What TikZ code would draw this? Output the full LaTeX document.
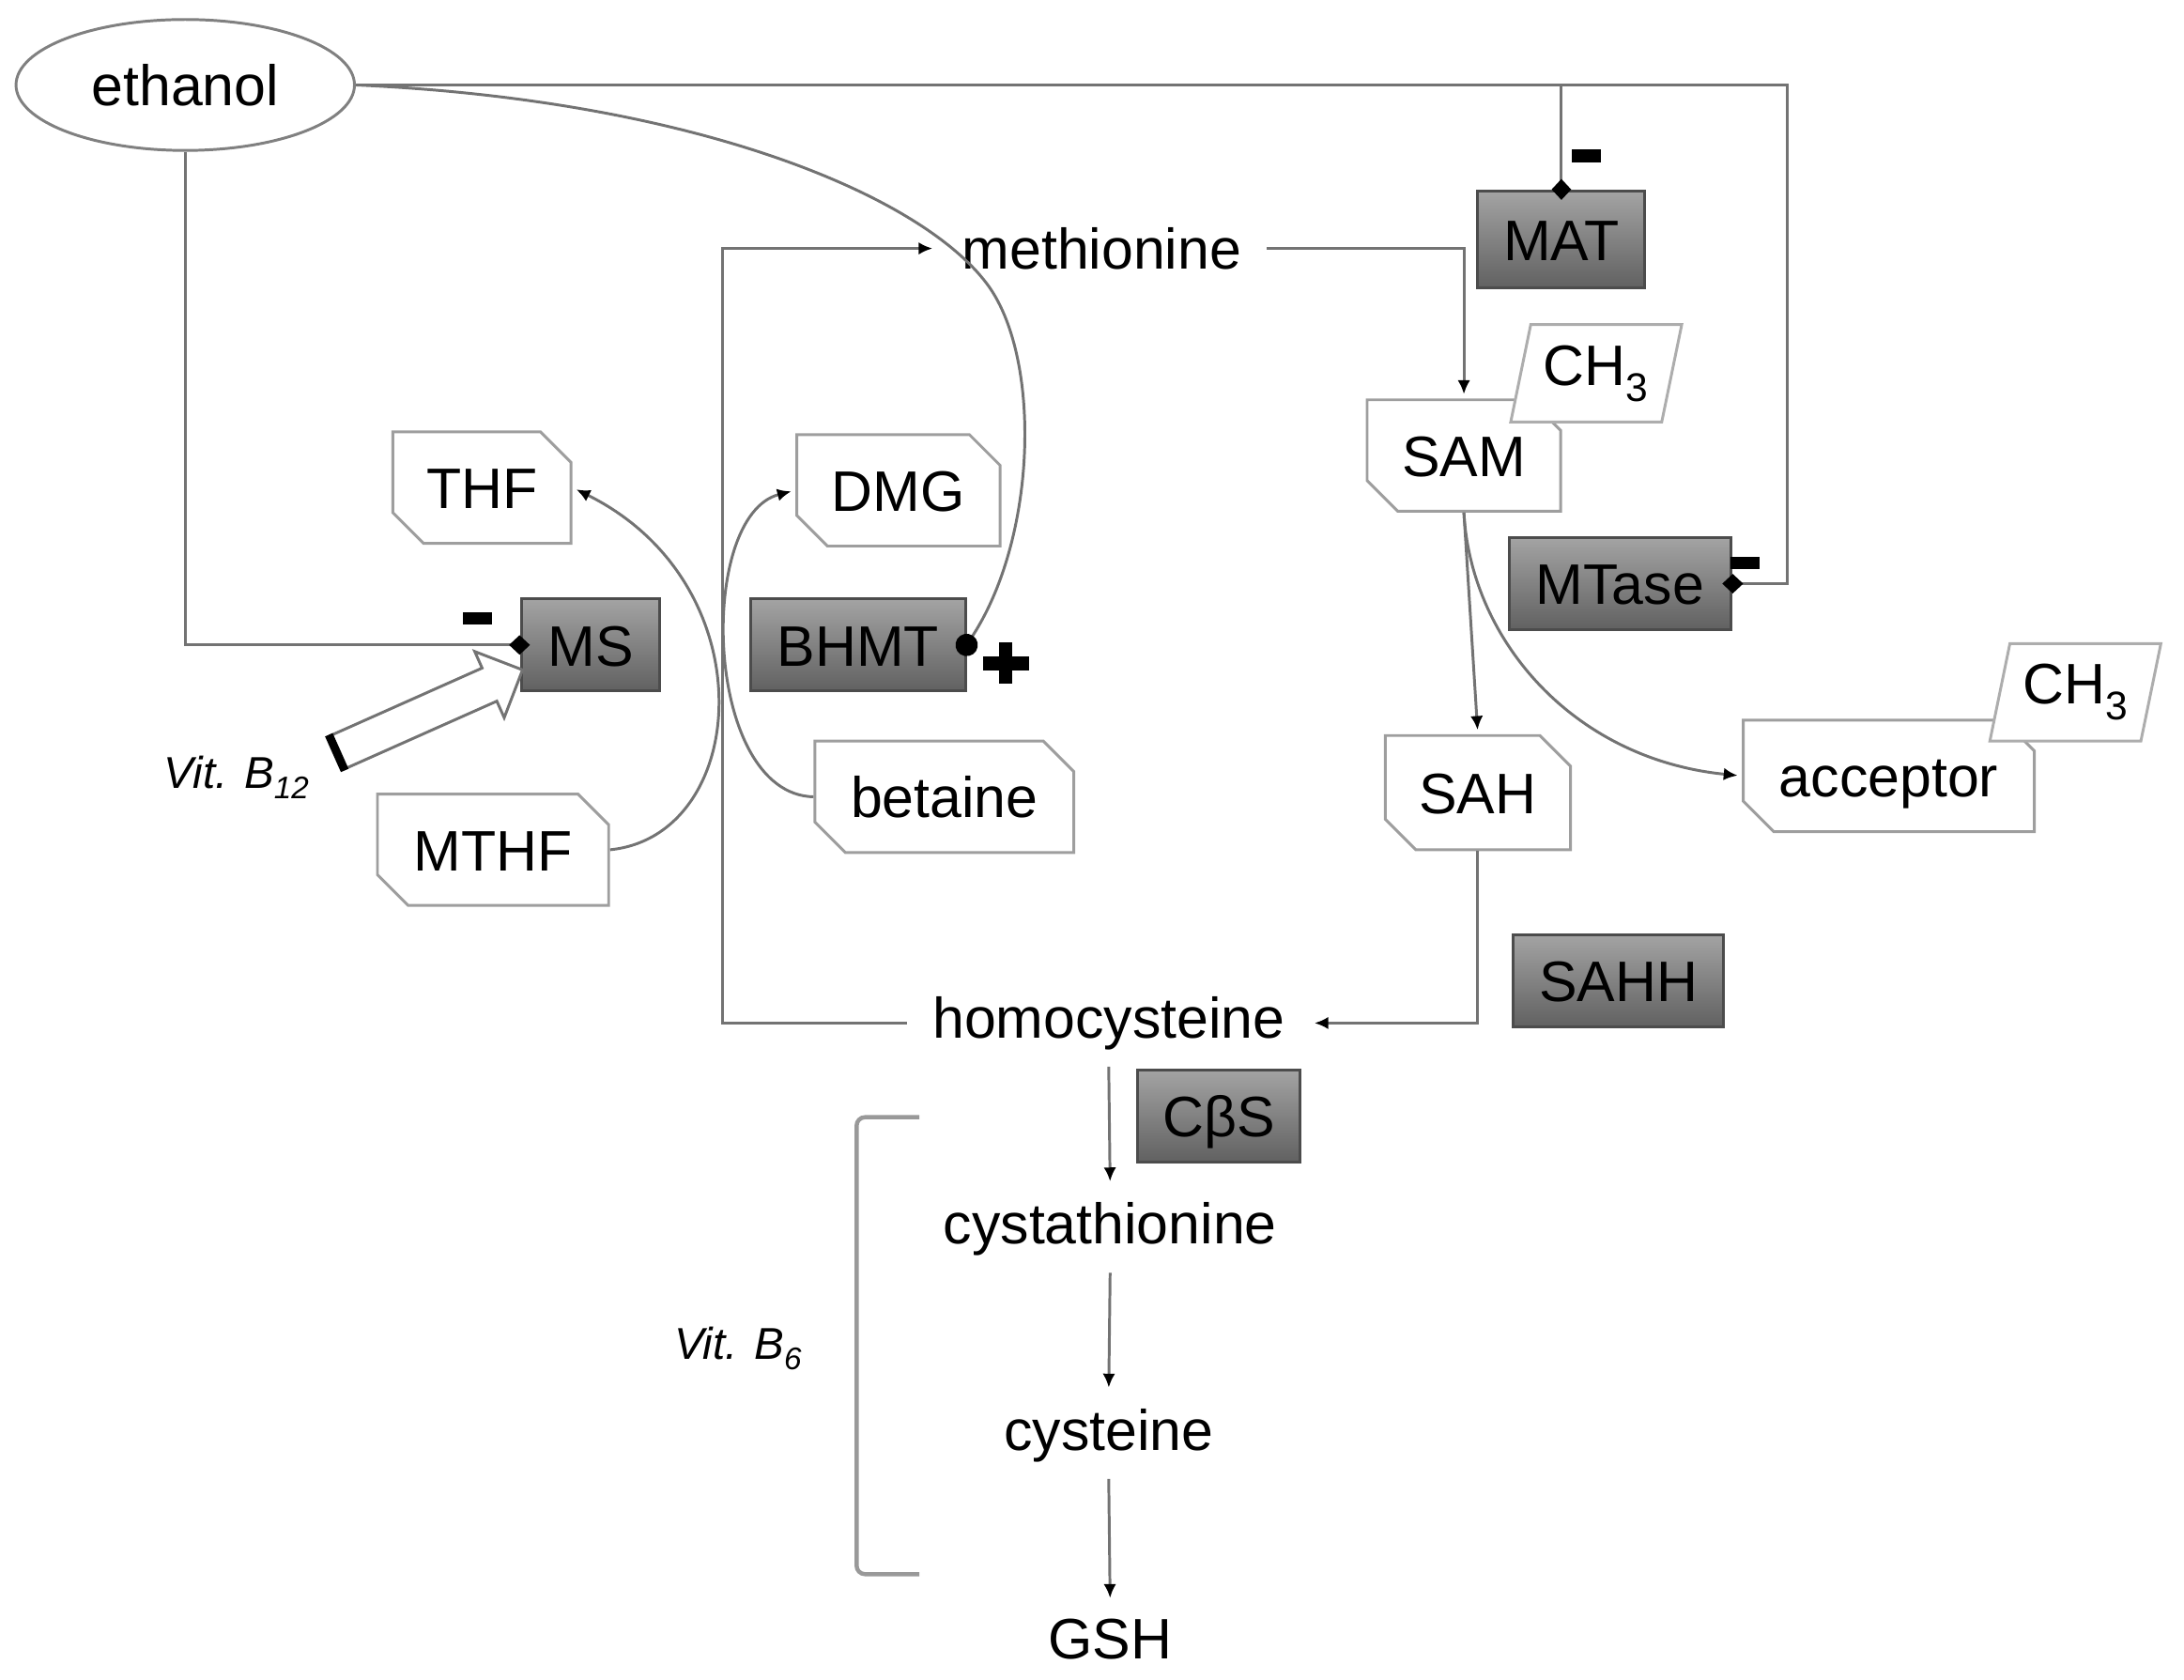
\documentclass[tikz,border=0pt]{standalone}
\usepackage{fontspec}
\setmainfont{Liberation Sans}
\usetikzlibrary{arrows.meta,%
	shapes.geometric,%
	shapes.misc,%
	shapes.arrows}
\newcommand\boxfont{\fontsize{41}{48}\selectfont}
\newcommand\vitfont{\fontsize{32}{38}\selectfont\itshape}

\begin{document}
\begin{tikzpicture}[x=1pt,y=-1pt,
	mol_node/.style={chamfered rectangle,chamfered rectangle corners={north east,south west},chamfered rectangle xsep=11pt,chamfered rectangle ysep=11pt,draw=black!38,line width=2pt,fill=white,inner sep=0pt,minimum height=80pt,text height=30pt,text depth=0pt,font=\boxfont},
	enz_node/.style={rectangle,draw=black!70,line width=2pt,top color=black!36,bottom color=black!62,inner sep=0pt,minimum height=66pt,text height=30pt,text depth=0pt,font=\boxfont},
	ch3_node/.style={trapezium,trapezium left angle=74,trapezium right angle=106,trapezium stretches=true,draw=black!32,line width=2pt,fill=white,inner sep=0pt,minimum width=123pt,minimum height=70pt,font=\boxfont},
	met_text/.style={anchor=base,inner xsep=18pt,inner ysep=12pt,font=\boxfont},
	vit_text/.style={inner sep=0pt,font=\vitfont},
	conn/.style={draw=black!55,line width=2pt},
	to_arrow/.style={conn,-{Latex[length=10pt,width=9pt,color=black]},shorten >=3pt},
	inhibit/.style={conn,-{Diamond[length=15pt,width=14pt,color=black]},shorten >=-7pt},
	activate/.style={conn,-{Circle[length=16pt,color=black]},shorten >=-8pt},
	minus_mark/.style={rectangle,fill=black,minimum width=21pt,minimum height=9pt,inner sep=0pt},
	hollow_arrow/.style={single arrow,draw=black!55,line width=2pt,fill=white,minimum height=145pt,inner xsep=0pt,inner ysep=12pt,single arrow head extend=13pt,single arrow head indent=0pt}]

	\useasboundingbox (0,0) rectangle (1568,1206);

	% metabolites
	\node[ellipse,draw=black!50,line width=2pt,minimum width=243pt,minimum height=94pt,inner sep=0pt,font=\boxfont] (ethanol) at (133,61) {ethanol};
	\node[met_text] (methionine) at (791,193) {methionine};
	\node[met_text] (homocys) at (796,745) {homocysteine};
	\node[met_text] (cystathionine) at (797,893) {cystathionine};
	\node[met_text] (cysteine) at (796,1041) {cysteine};
	\node[met_text] (gsh) at (797,1191) {GSH};

	\node[mol_node,minimum width=128pt] (thf) at (346,350) {THF};
	\node[mol_node,minimum width=146pt] (dmg) at (645,352) {DMG};
	\node[mol_node,minimum width=186pt] (betaine) at (678,572) {betaine};
	\node[mol_node,minimum width=166pt] (mthf) at (354,610) {MTHF};
	\node[mol_node,minimum width=139pt] (sam) at (1051,327) {SAM};
	\node[ch3_node] (ch3_sam) at (1146,268) {CH\textsubscript{3}};
	\node[mol_node,minimum width=133pt,minimum height=82pt] (sah) at (1061,569) {SAH};
	\node[mol_node,minimum width=209pt] (acceptor) at (1356,557) {acceptor};
	\node[ch3_node] (ch3_acc) at (1490,497) {CH\textsubscript{3}};

	% enzymes
	\node[enz_node,minimum width=120pt,minimum height=69pt] (mat) at (1121,172) {MAT};
	\node[enz_node,minimum width=99pt] (ms) at (424,463) {MS};
	\node[enz_node,minimum width=154pt] (bhmt) at (616,463) {BHMT};
	\node[enz_node,minimum width=159pt] (mtase) at (1163,419) {MTase};
	\node[enz_node,minimum width=151pt] (sahh) at (1162,704) {SAHH};
	\node[enz_node,minimum width=117pt] (cbs) at (875,801) {CβS};

	\node[vit_text] (vit_b12) at (170,558) {Vit. B\textsubscript{12}};
	\node[vit_text] (vit_b6) at (530,968) {Vit. B\textsubscript{6}};

	\coordinate (top_corner) at (1283,61);
	\coordinate (loop_left) at (519,0);

	% ethanol effects
	\draw[inhibit] (ethanol.east) -- (top_corner) |- (mtase.east);
	\draw[inhibit] (mat.north |- ethanol.east) -- (mat.north);
	\draw[inhibit] (ethanol.south) |- (ms.west);
	\draw[activate] (ethanol.east) .. controls (500,72) and (660,140) .. (708,203)
		.. controls (748,255) and (745,385) .. (bhmt.east);

	\node[minus_mark] (mat_minus) at (1139,112) {};
	\node[minus_mark] (mtase_minus) at (1253,404) {};
	\node[minus_mark] (ms_minus) at (343,444) {};
	\node[minus_mark,minimum width=33pt,minimum height=10pt] (bhmt_plus_h) at (722,476) {};
	\node[minus_mark,minimum width=10pt,minimum height=30pt] (bhmt_plus_v) at (722,476) {};

	% methionine cycle
	\draw[to_arrow] (homocys.west) -- (homocys.west -| loop_left) |- (methionine.west);
	\draw[to_arrow] (methionine.east) -| (sam.north);
	\draw[to_arrow] (sam.south) -- (sah.north);
	\draw[to_arrow] (sam.south) .. controls (1056,460) and (1130,545) .. (acceptor.west);
	\draw[to_arrow] (sah.south) |- (homocys.east);
	\draw[to_arrow] (mthf.east) .. controls (538,600) and (552,420) .. (thf.east);
	\draw[to_arrow] (betaine.west) .. controls (505,570) and (500,370) .. (dmg.west);

	% transsulfuration
	\draw[to_arrow] (homocys.south) -- (cystathionine.north);
	\draw[to_arrow] (cystathionine.south) -- (cysteine.north);
	\draw[to_arrow] (cysteine.south) -- (gsh.north);
	\draw[draw=black!40,line width=3pt,rounded corners=6pt] (660,802) -- (615,802) -- (615,1130) -- (660,1130);

	% vitamin B12
	\node[hollow_arrow,rotate=24] (b12_arrow) at (303,513) {};
	\draw[line width=6pt] (b12_arrow.before tail) -- (b12_arrow.after tail);
\end{tikzpicture}
\end{document}
